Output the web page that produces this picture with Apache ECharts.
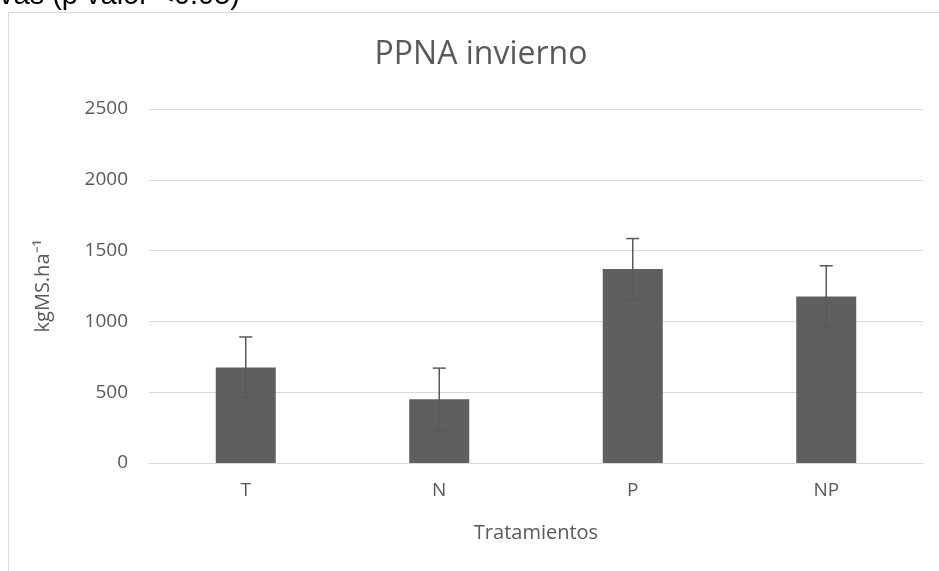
<!DOCTYPE html>
<html>
<head>
<meta charset="utf-8">
<script src="https://cdn.jsdelivr.net/npm/echarts@6/dist/echarts.min.js"></script>
<style>
  html, body { margin: 0; padding: 0; background: #fff; }
  #main { width: 939px; height: 571px; }
</style>
</head>
<body>
<div id="main"></div>
<script>
var categories = ['T', 'N', 'P', 'NP'];
var means = [675, 450, 1370, 1175];
var errors = [215, 220, 215, 218];
var yTicks = [0, 500, 1000, 1500, 2000, 2500];

var chart = echarts.init(document.getElementById('main'));

var errorData = means.map(function (m, i) {
    return [i, m - errors[i], m + errors[i]];
});

var option = {
    backgroundColor: '#fff',
    animation: false,
    title: {
        text: 'PPNA invierno',
        left: 476,
        top: 34,
        textAlign: 'center',
        textStyle: {
            fontFamily: 'Open Sans',
            fontSize: 32,
            fontWeight: 'normal',
            color: '#595959'
        }
    },
    graphic: [
        {
            type: 'rect',
            shape: { x: 8.5, y: 12.5, width: 960, height: 600 },
            style: { fill: null, stroke: '#d9d9d9', lineWidth: 1 },
            silent: true,
            z: -1
        },
        {
            type: 'text',
            style: {
                x: 240,
                y: 10,
                align: 'right',
                verticalAlign: 'bottom',
                text: 'vas (p valor <0.05)',
                font: '29px "Liberation Sans"',
                fill: '#000'
            }
        }
    ],
    grid: {
        left: 149,
        right: 16,
        top: 109,
        bottom: 108
    },
    xAxis: {
        type: 'category',
        data: categories,
        name: 'Tratamientos',
        nameLocation: 'middle',
        nameGap: 60,
        nameTextStyle: { fontFamily: 'Open Sans', fontSize: 20, color: '#595959' },
        axisLine: { lineStyle: { color: '#d9d9d9', width: 1 } },
        axisTick: { show: false },
        axisLabel: { fontFamily: 'Open Sans', fontSize: 19, color: '#595959', margin: 18 }
    },
    yAxis: {
        type: 'value',
        min: yTicks[0],
        max: yTicks[yTicks.length - 1],
        interval: 500,
        name: 'kgMS.ha⁻¹',
        nameLocation: 'middle',
        nameGap: 96,
        nameTextStyle: { fontFamily: 'Open Sans', fontSize: 20, color: '#595959' },
        axisLine: { show: false },
        axisTick: { show: false },
        axisLabel: {
            fontFamily: 'Open Sans', fontSize: 19, color: '#595959', margin: 21,
            formatter: function (v) { return String(v); }
        },
        splitLine: { lineStyle: { color: '#d9d9d9', width: 1 } }
    },
    series: [
        {
            type: 'bar',
            data: means,
            barWidth: 60,
            itemStyle: { color: '#5f5f5f' }
        },
        {
            type: 'custom',
            data: errorData,
            z: 10,
            renderItem: function (params, api) {
                var lo = api.coord([api.value(0), api.value(1)]);
                var hi = api.coord([api.value(0), api.value(2)]);
                var half = 6.5;
                var style = { stroke: '#595959', lineWidth: 1.5 };
                return {
                    type: 'group',
                    children: [
                        { type: 'line', shape: { x1: hi[0], y1: hi[1], x2: lo[0], y2: lo[1] }, style: style },
                        { type: 'line', shape: { x1: hi[0] - half, y1: hi[1], x2: hi[0] + half, y2: hi[1] }, style: style },
                        { type: 'line', shape: { x1: lo[0] - half, y1: lo[1], x2: lo[0] + half, y2: lo[1] }, style: style }
                    ]
                };
            }
        }
    ]
};

chart.setOption(option);
</script>
</body>
</html>
